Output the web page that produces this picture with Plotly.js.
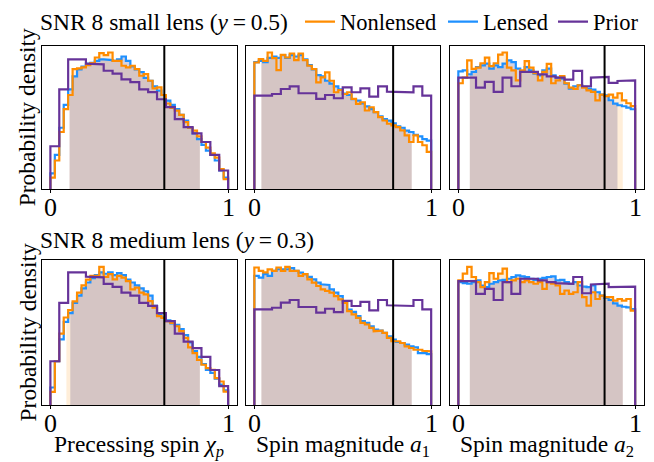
<!DOCTYPE html>
<html>
<head>
<meta charset="utf-8">
<script src="https://cdn.plot.ly/plotly-3.0.1.min.js"></script>
<style>html,body{margin:0;padding:0;background:#fff}#chart{width:654px;height:462px}</style>
</head>
<body>
<div id="chart"></div>
<script>
// ---------------- data (relative density) ----------------
const seriesNames = ["Nonlensed", "Lensed", "Prior"];
const rowTitles = ["SNR 8 small lens (<i>y</i>\u2009=\u20090.5)", "SNR 8 medium lens (<i>y</i>\u2009=\u20090.3)"];
const xTitles = ["Precessing spin <i>χ</i><sub><i>p</i></sub>", "Spin magnitude <i>a</i><sub>1</sub>", "Spin magnitude <i>a</i><sub>2</sub>"];
const tickValues = [0, 1];
const tickLabels = ["0", "1"];
const trueValues = [0.641, 0.785, 0.827];

// priors (20 bins on [0,1])
const priorChiP = [0.30,0.70,0.91,0.91,0.88,0.875,0.83,0.81,0.77,0.75,0.70,0.68,0.63,0.575,0.49,0.435,0.39,0.33,0.24,0.13];
const priorA1 = [0.656,0.656,0.667,0.702,0.72,0.672,0.672,0.633,0.66,0.637,0.714,0.679,0.707,0.649,0.72,0.684,0.679,0.679,0.72,0.656];
const priorA2row1 = [0.779,0.779,0.709,0.749,0.679,0.779,0.719,0.819,0.819,0.802,0.788,0.779,0.765,0.826,0.719,0.779,0.784,0.742,0.756,0.76];
const priorA2row2 = [0.846,0.846,0.759,0.793,0.717,0.839,0.759,0.862,0.862,0.851,0.839,0.832,0.828,0.874,0.763,0.823,0.828,0.805,0.805,0.809];

// row 1: small lens (40 bins on [0,1])
const nonlensedChiP1 = [0.08,0.20,0.40,0.56,0.66,0.842,0.847,0.854,0.87,0.884,0.923,0.954,0.94,0.958,0.90,0.90,0.865,0.854,0.865,0.842,0.795,0.807,0.76,0.707,0.714,0.66,0.60,0.57,0.55,0.52,0.47,0.43,0.41,0.37,0.33,0.29,0.25,0.22,0.14,0.07];
const lensedChiP1 = [0.11,0.24,0.43,0.59,0.70,0.79,0.84,0.86,0.88,0.885,0.90,0.91,0.91,0.905,0.90,0.91,0.93,0.90,0.86,0.84,0.82,0.78,0.76,0.72,0.69,0.66,0.62,0.59,0.56,0.52,0.48,0.43,0.39,0.35,0.31,0.27,0.24,0.20,0.13,0.08];
const nonlensedA1r1 = [0.888,0.912,0.90,0.958,0.919,0.835,0.942,0.923,0.951,0.905,0.951,0.905,0.865,0.842,0.749,0.784,0.819,0.76,0.679,0.695,0.667,0.679,0.633,0.598,0.609,0.551,0.574,0.54,0.505,0.481,0.458,0.447,0.435,0.412,0.377,0.33,0.377,0.33,0.307,0.26];
const lensedA1r1 = [0.89,0.90,0.89,0.92,0.93,0.92,0.94,0.92,0.94,0.93,0.94,0.91,0.87,0.84,0.80,0.79,0.76,0.74,0.72,0.70,0.67,0.66,0.63,0.62,0.60,0.58,0.56,0.54,0.51,0.49,0.48,0.46,0.44,0.43,0.41,0.40,0.38,0.37,0.35,0.34];
const nonlensedA2r1 = [0.74,0.78,0.90,0.84,0.85,0.88,0.92,0.86,0.88,0.94,0.955,0.85,0.83,0.76,0.83,0.895,0.85,0.81,0.76,0.82,0.876,0.74,0.76,0.79,0.74,0.71,0.70,0.726,0.71,0.69,0.68,0.62,0.66,0.65,0.66,0.64,0.67,0.62,0.60,0.58];
const lensedA2r1 = [0.823,0.83,0.802,0.819,0.853,0.865,0.877,0.842,0.865,0.853,0.877,0.90,0.888,0.842,0.819,0.853,0.83,0.807,0.795,0.83,0.842,0.795,0.779,0.772,0.737,0.702,0.719,0.726,0.714,0.702,0.695,0.679,0.66,0.656,0.621,0.598,0.586,0.579,0.57,0.558];

// row 2: medium lens
const nonlensedChiP2 = [0.09,0.30,0.49,0.60,0.65,0.71,0.77,0.82,0.86,0.885,0.885,0.947,0.878,0.897,0.862,0.885,0.874,0.85,0.793,0.805,0.77,0.759,0.713,0.667,0.609,0.598,0.575,0.563,0.54,0.506,0.46,0.395,0.356,0.31,0.276,0.253,0.241,0.184,0.161,0.092];
const lensedChiP2 = [0.12,0.30,0.45,0.57,0.63,0.70,0.75,0.80,0.84,0.87,0.89,0.91,0.90,0.91,0.89,0.905,0.89,0.86,0.84,0.82,0.80,0.78,0.75,0.68,0.62,0.60,0.58,0.56,0.55,0.52,0.48,0.43,0.37,0.33,0.28,0.24,0.22,0.18,0.14,0.10];
const nonlensedA1r2 = [0.943,0.92,0.91,0.93,0.92,0.943,0.92,0.947,0.92,0.92,0.885,0.897,0.862,0.839,0.816,0.793,0.782,0.77,0.747,0.724,0.70,0.644,0.621,0.598,0.563,0.552,0.529,0.506,0.51,0.495,0.46,0.437,0.437,0.425,0.402,0.391,0.379,0.379,0.372,0.368];
const lensedA1r2 = [0.885,0.874,0.897,0.885,0.92,0.931,0.931,0.931,0.938,0.92,0.908,0.897,0.878,0.862,0.839,0.828,0.823,0.793,0.77,0.747,0.713,0.655,0.639,0.609,0.575,0.563,0.54,0.517,0.51,0.495,0.471,0.448,0.432,0.425,0.414,0.402,0.395,0.356,0.356,0.349];
const nonlensedA2r2 = [0.851,0.897,0.943,0.874,0.839,0.805,0.839,0.901,0.862,0.897,0.931,0.839,0.851,0.862,0.839,0.851,0.839,0.828,0.839,0.793,0.839,0.828,0.816,0.759,0.782,0.759,0.77,0.839,0.736,0.678,0.77,0.724,0.747,0.736,0.736,0.713,0.724,0.713,0.724,0.644];
const lensedA2r2 = [0.839,0.832,0.828,0.839,0.851,0.816,0.805,0.828,0.839,0.851,0.855,0.862,0.874,0.885,0.878,0.874,0.862,0.855,0.862,0.868,0.874,0.878,0.851,0.855,0.839,0.828,0.839,0.816,0.809,0.805,0.816,0.77,0.747,0.731,0.717,0.694,0.678,0.671,0.667,0.655];

// 90% credible intervals shown as shaded regions [low, high]
const nonlensedCI = [[0.108,0.841],[0.04,0.89],[0.065,0.93],[0.09,0.841],[0.04,0.89],[0.065,0.93]];
const lensedCI    = [[0.108,0.841],[0.04,0.89],[0.065,0.90],[0.112,0.841],[0.04,0.89],[0.065,0.93]];

// ---------------- build ----------------
const panels = [
  [nonlensedChiP1, lensedChiP1, priorChiP],
  [nonlensedA1r1, lensedA1r1, priorA1],
  [nonlensedA2r1, lensedA2r1, priorA2row1],
  [nonlensedChiP2, lensedChiP2, priorChiP],
  [nonlensedA1r2, lensedA1r2, priorA1],
  [nonlensedA2r2, lensedA2r2, priorA2row2]
];
const colors = ["#ff8c00", "#1e90ff", "#663399"];
const fillColors = ["rgba(255,140,0,0.15)", "rgba(87,74,137,0.25)"];
const FONT = "Liberation Serif, Times New Roman, Times, serif";
const legendIds = ["legend", "legend2", "legend3"];
const legendX = [300, 443, 553];

function stepPath(vals) {
  const n = vals.length, x = [0], y = [0];
  for (let i = 0; i < n; i++) { x.push(i / n, (i + 1) / n); y.push(vals[i], vals[i]); }
  x.push(1); y.push(0);
  return {x, y};
}
function fillPath(vals, lo, hi) {
  const n = vals.length, x = [lo], y = [0];
  for (let i = 0; i < n; i++) {
    const a = Math.max(i / n, lo), b = Math.min((i + 1) / n, hi);
    if (b <= a) continue;
    x.push(a, b); y.push(vals[i], vals[i]);
  }
  x.push(hi); y.push(0);
  return {x, y};
}

const xDom = [[41.5/654, 237/654], [245.5/654, 440/654], [449.5/654, 644/654]];
const yDom = [[1 - 189/462, 1 - 45.7/462], [1 - 405/462, 1 - 260/462]];
const axisBottomPx = [189, 405];

const traces = [];
const layout = {
  width: 654, height: 462,
  margin: {l: 0, r: 0, t: 0, b: 0},
  paper_bgcolor: "#fff", plot_bgcolor: "#fff",
  font: {family: FONT, color: "#000", size: 23.5},
  showlegend: true,
  shapes: [], annotations: []
};
legendIds.forEach((id, i) => {
  layout[id] = {orientation: "h", x: legendX[i] / 654, xanchor: "left", y: 1 - 22/462, yanchor: "middle",
    font: {family: FONT, size: 22.5}, bgcolor: "rgba(0,0,0,0)", itemwidth: 30};
});

panels.forEach((p, k) => {
  const row = Math.floor(k / 3), col = k % 3;
  const ax = k === 0 ? "" : String(k + 1);
  const xa = "x" + ax, ya = "y" + ax;
  const top = 1.05 * Math.max(...p[0], ...p[1], ...p[2]);
  const cis = [nonlensedCI[k], lensedCI[k]];
  [0, 1].forEach(s => {
    const f = fillPath(p[s], cis[s][0], cis[s][1]);
    traces.push({x: f.x, y: f.y, xaxis: xa, yaxis: ya, type: "scatter", mode: "lines",
      fill: "toself", fillcolor: fillColors[s], line: {width: 0}, hoverinfo: "skip", showlegend: false});
  });
  [1, 0, 2].forEach(s => {
    const st = stepPath(p[s]);
    traces.push({x: st.x, y: st.y, xaxis: xa, yaxis: ya, type: "scatter", mode: "lines",
      line: {color: colors[s], width: 2.2}, name: seriesNames[s], legend: legendIds[s],
      showlegend: k === 0, hoverinfo: "skip"});
  });
  layout["xaxis" + ax] = {domain: xDom[col], anchor: ya, range: [-0.05, 1.05],
    tickvals: tickValues, showticklabels: false, ticks: "outside", ticklen: 3,
    tickcolor: "#000", showline: true, mirror: true, linecolor: "#000", linewidth: 1,
    showgrid: false, zeroline: false, fixedrange: true};
  layout["yaxis" + ax] = {domain: yDom[row], anchor: xa, range: [0, top], showticklabels: false,
    ticks: "", showline: true, mirror: true, linecolor: "#000", linewidth: 1,
    showgrid: false, zeroline: false, fixedrange: true};
  layout.shapes.push({type: "line", xref: xa, yref: ya + " domain", x0: trueValues[col], x1: trueValues[col],
    y0: 0, y1: 1, line: {color: "#000", width: 2}});
  tickValues.forEach((tv, i) => {
    layout.annotations.push({text: tickLabels[i], xref: xa, yref: "paper", x: tv, xanchor: "center",
      y: 1 - (axisBottomPx[row] + 18.5) / 462, yanchor: "middle", showarrow: false,
      font: {family: FONT, size: 26}});
  });
});

rowTitles.forEach((t, r) => {
  layout.annotations.push({text: t, xref: "paper", yref: "paper", x: 38/654, xanchor: "left",
    y: r === 0 ? 1 - 22/462 : 1 - 240/462, yanchor: "middle", showarrow: false, font: {size: 23.5}});
  layout.annotations.push({text: "Probability density", xref: "paper", yref: "paper", x: 27/654,
    xanchor: "center", y: (yDom[r][0] + yDom[r][1]) / 2, yanchor: "middle", textangle: -90,
    showarrow: false, font: {size: 23.5}});
});
xTitles.forEach((t, c) => {
  layout.annotations.push({text: t, xref: "paper", yref: "paper", x: (xDom[c][0] + xDom[c][1]) / 2,
    xanchor: "center", y: 1 - 446/462, yanchor: "middle", showarrow: false, font: {size: 23.5}});
});

Plotly.newPlot("chart", traces, layout, {staticPlot: true, displayModeBar: false});
</script>
</body>
</html>
